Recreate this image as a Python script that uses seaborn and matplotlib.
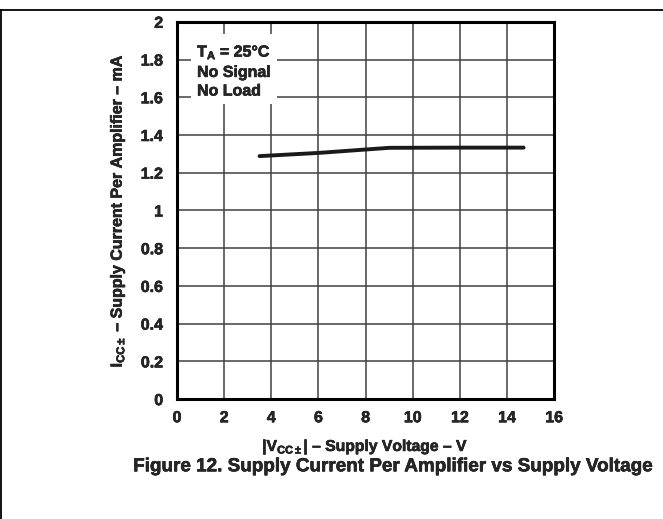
import matplotlib
matplotlib.use('Agg')
import matplotlib.pyplot as plt
from matplotlib.lines import Line2D
import matplotlib.patheffects as pe
import pandas as pd
import seaborn as sns

# Values
supply_voltage = [3.5, 6.0, 9.0, 12.0, 14.7]
supply_current = [1.288, 1.305, 1.332, 1.333, 1.333]

x_ticks = [0, 2, 4, 6, 8, 10, 12, 14, 16]
y_ticks = [0, 0.2, 0.4, 0.6, 0.8, 1.0, 1.2, 1.4, 1.6, 1.8, 2.0]
y_tick_labels = ['0', '0.2', '0.4', '0.6', '0.8', '1', '1.2', '1.4', '1.6', '1.8', '2']

df = pd.DataFrame({'vcc': supply_voltage, 'icc': supply_current})

sns.set_style('white')
plt.rcParams['font.family'] = ['Liberation Sans', 'DejaVu Sans']
plt.rcParams['font.weight'] = 'bold'
plt.rcParams['mathtext.fontset'] = 'custom'
plt.rcParams['mathtext.rm'] = 'Liberation Sans:bold'
plt.rcParams['mathtext.it'] = 'Liberation Sans:bold'
plt.rcParams['mathtext.bf'] = 'Liberation Sans:bold'

heavy = [pe.withStroke(linewidth=0.4, foreground='black')]

fig = plt.figure(figsize=(6.63, 5.19), dpi=100)
ax = fig.add_axes([0.267, 0.231, 0.569, 0.727])

sns.lineplot(data=df, x='vcc', y='icc', ax=ax, color='#1a1a1a', linewidth=2.8, zorder=4)

ax.set_xlim(0, 16)
ax.set_ylim(0, 2)
ax.set_xticks(x_ticks)
ax.set_yticks(y_ticks)
ax.set_yticklabels(y_tick_labels)
ax.tick_params(axis='both', length=0, labelsize=11.5)
ax.tick_params(axis='y', pad=10)
ax.tick_params(axis='x', pad=8)
for lbl in ax.get_xticklabels() + ax.get_yticklabels():
    lbl.set_fontweight('bold')
    lbl.set_path_effects(heavy)

ax.grid(True, color='#404040', linewidth=1.1)
ax.set_axisbelow(True)
for s in ax.spines.values():
    s.set_visible(True)
    s.set_color('black')
    s.set_linewidth(2.2)

xl = ax.set_xlabel(r'|V$_{\mathrm{CC\pm}}$| – Supply Voltage – V', fontsize=11.3, fontweight='bold', labelpad=8.5)
yl = ax.set_ylabel(r'I$_{\mathrm{CC\pm}}$ – Supply Current Per Amplifier – mA', fontsize=11.5,
                   fontweight='bold', labelpad=10)
xl.set_path_effects(heavy)
yl.set_path_effects(heavy)

box = ax.text(0.85, 1.895, 'T$_{\\mathrm{A}}$ = 25°C\nNo Signal\nNo Load', fontsize=11.5, fontweight='bold',
              va='top', ha='left', linespacing=1.3, zorder=5,
              bbox=dict(facecolor='white', edgecolor='none', pad=4))
box.set_path_effects(heavy)

title = fig.text(0.593, 0.117, 'Figure 12. Supply Current Per Amplifier vs Supply Voltage',
                 fontsize=13.6, fontweight='bold', ha='center', va='top')
title.set_path_effects(heavy)

# page frame lines
fig.add_artist(Line2D([0, 1], [0.981, 0.981], color='black', linewidth=1.3, transform=fig.transFigure))
fig.add_artist(Line2D([0.002, 0.002], [0, 0.981], color='black', linewidth=1.3, transform=fig.transFigure))

fig.savefig('out.png', dpi=100)
